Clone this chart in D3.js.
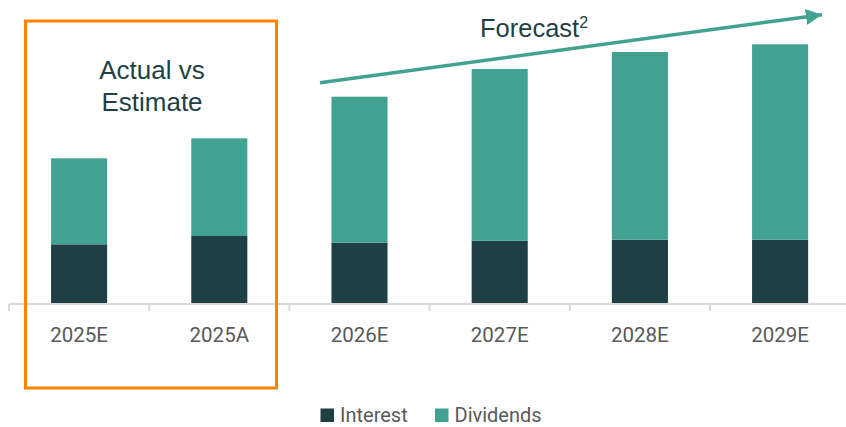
<!DOCTYPE html>
<html><head><meta charset="utf-8">
<script src="https://cdn.jsdelivr.net/npm/d3@7"></script>
<style>body{margin:0;background:#fff}svg{display:block}</style>
</head><body>
<svg id="c" width="846" height="427"></svg>
<script>
const categories = ["2025E","2025A","2026E","2027E","2028E","2029E"];
const interest  = [59.2, 67.5, 60.8, 62.8, 63.8, 63.8];
const dividends = [86.0, 97.7, 146.0, 171.7, 187.7, 195.4];
const seriesNames = ["Interest","Dividends"];
const colors = ["#1E3F44","#42A292"];

const svg = d3.select("#c");
const x = d3.scaleBand().domain(categories).range([9, 850.2]).padding(0);
const y = d3.scaleLinear().domain([0, 300]).range([303.5, 3.5]);
const barW = x.bandwidth() * 0.4;

const rows = categories.map((c,i)=>({cat:c, Interest:interest[i], Dividends:dividends[i]}));
const stack = d3.stack().keys(seriesNames)(rows);

svg.append("g").selectAll("g").data(stack).join("g")
  .attr("fill",(d,i)=>colors[i])
  .selectAll("rect").data(d=>d).join("rect")
  .attr("x", d=> x(d.data.cat) + (x.bandwidth()-barW)/2)
  .attr("width", barW)
  .attr("y", d=> y(d[1]))
  .attr("height", d=> y(d[0]) - y(d[1]));

// axis
const axis = svg.append("g");
axis.append("line").attr("x1",9).attr("x2",846).attr("y1",304).attr("y2",304)
  .attr("stroke","#d9d9d9").attr("stroke-width",2);
const tickPos = categories.map(c=>x(c)).concat([x(categories[categories.length-1])+x.step()]);
axis.selectAll("line.t").data(tickPos).join("line").attr("class","t")
  .attr("x1",d=>d).attr("x2",d=>d).attr("y1",304).attr("y2",311)
  .attr("stroke","#d9d9d9").attr("stroke-width",2);
axis.selectAll("text").data(categories).join("text")
  .attr("x",d=>x(d)+x.bandwidth()/2).attr("y",342)
  .attr("text-anchor","middle").attr("fill","#595959")
  .style("font-family","Roboto").style("font-size","20.5px").text(d=>d);

// orange box
svg.append("rect").attr("x",25.5).attr("y",21).attr("width",251).attr("height",367)
  .attr("fill","none").attr("stroke","#FF8200").attr("stroke-width",3);
const ann = svg.append("text").attr("text-anchor","middle").attr("fill","#1E3F44")
  .style("font-family","Liberation Sans, Arial").style("font-size","26px");
ann.append("tspan").attr("x",152).attr("y",79).text("Actual vs");
ann.append("tspan").attr("x",152).attr("y",111).text("Estimate");

// forecast arrow
svg.append("defs").append("marker").attr("id","ah").attr("viewBox","0 0 10 10")
  .attr("refX",10).attr("refY",5).attr("markerWidth",4.6).attr("markerHeight",4.6)
  .attr("orient","auto").attr("markerUnits","strokeWidth")
  .append("path").attr("d","M0,0 L10,5 L0,10 Z").attr("fill","#42A292");
svg.append("line").attr("x1",320).attr("y1",82.7).attr("x2",822).attr("y2",14.7)
  .attr("stroke","#42A292").attr("stroke-width",3.5).attr("marker-end","url(#ah)");
const fc = svg.append("text").attr("x",480).attr("y",37).attr("fill","#1E3F44")
  .style("font-family","Liberation Sans, Arial").style("font-size","25.5px");
fc.append("tspan").text("Forecast");
fc.append("tspan").attr("dy",-9).style("font-size","16px").text("2");

// legend
const lg = svg.append("g");
const legItems = [{n:"Interest",c:colors[0],x:320.5},{n:"Dividends",c:colors[1],x:435}];
legItems.forEach(it=>{
  lg.append("rect").attr("x",it.x).attr("y",408.5).attr("width",13.5).attr("height",13.5).attr("fill",it.c);
  lg.append("text").attr("x",it.x+19.5).attr("y",421.5).attr("fill","#595959")
    .style("font-family","Roboto").style("font-size","20px").text(it.n);
});
</script>
</body></html>
